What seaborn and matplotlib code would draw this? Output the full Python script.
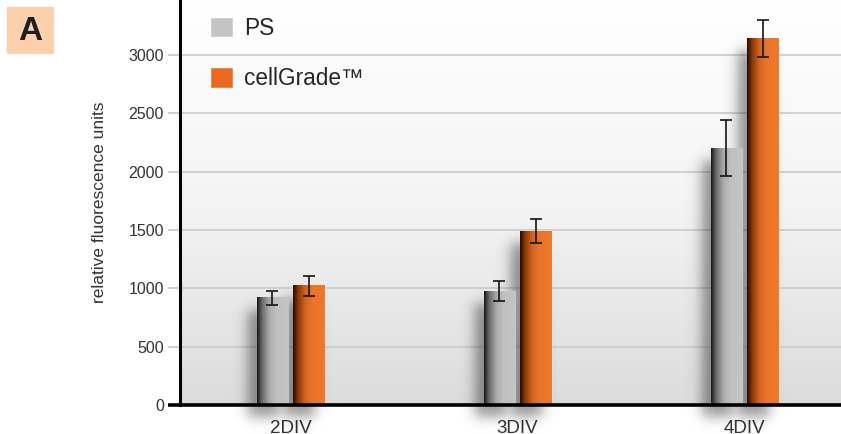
import numpy as np
import pandas as pd
import matplotlib
matplotlib.use('Agg')
import matplotlib.pyplot as plt
import seaborn as sns
from matplotlib.patches import Patch, Rectangle
from matplotlib.colors import LinearSegmentedColormap

# --- data ---
days = ['2DIV', '3DIV', '4DIV']
surfaces = ['PS', 'cellGrade™']
ps_mean = [920, 975, 2200]
ps_err = [60, 85, 240]
cg_mean = [1020, 1490, 3140]
cg_err = [85, 103, 160]
y_ticks = [0, 500, 1000, 1500, 2000, 2500, 3000]

df = pd.DataFrame({
    'day': days * 2,
    'surface': [surfaces[0]] * 3 + [surfaces[1]] * 3,
    'rfu': ps_mean + cg_mean,
    'err': ps_err + cg_err,
})

sns.set_theme(style='white')
plt.rcParams['font.family'] = ['Liberation Sans', 'DejaVu Sans']

W, H = 841, 434
fig = plt.figure(figsize=(W / 100, H / 100), dpi=100)
ax = fig.add_axes([180 / W, 29 / H, 661 / W, 405 / H])

palette = {'PS': '#c2c2c2', 'cellGrade™': '#ee7627'}
sns.barplot(data=df, x='day', y='rfu', hue='surface', hue_order=surfaces,
            palette=palette, width=0.318, gap=0.14, errorbar=None,
            saturation=1, legend=False, ax=ax)

XLIM = (-0.487, 2.425)
YLIM = (0, 3471)
px_x = (XLIM[1] - XLIM[0]) / 661   # data units per pixel
px_y = (YLIM[1] - YLIM[0]) / 405

# background gradient
bg = LinearSegmentedColormap.from_list('bg', ['#ffffff', '#f4f4f4', '#dcdcdc'])
ax.imshow(np.linspace(0, 1, 256).reshape(-1, 1), cmap=bg, aspect='auto',
          extent=[0, 1, 0, 1], transform=ax.transAxes, zorder=0)

cmaps = {
    'PS': LinearSegmentedColormap.from_list('ps', [(0, '#151515'), (0.15, '#666666'),
                                                  (0.38, '#a9a9a9'), (0.6, '#bfbfbf'), (1, '#c5c5c5')]),
    'cellGrade™': LinearSegmentedColormap.from_list('cg', [(0, '#260700'), (0.15, '#843508'),
                                                         (0.38, '#d2631d'), (0.6, '#e9742a'), (1, '#ef7a2c')]),
}

bars = sorted(ax.patches, key=lambda p: p.get_x())
order = df.assign(k=df['day'].map(days.index) * 2 + df['surface'].map(surfaces.index)).sort_values('k')
grad = np.linspace(0, 1, 256).reshape(1, -1)

for p, (_, row) in zip(bars, order.iterrows()):
    x0, w, h = p.get_x(), p.get_width(), p.get_height()
    # soft drop shadow
    sx = np.arange(-45, w / px_x + 10)
    sy = np.arange(-40, h / px_y + 15)
    X, Y = np.meshgrid(sx, sy)
    s = 8.0
    fx = 0.5 * (np.tanh((X + 9) / s) - np.tanh((X - w / px_x + 9) / s))
    fy = 0.5 * (np.tanh((Y + 12) / s) - np.tanh((Y - h / px_y + 12) / s))
    rgba = np.zeros(X.shape + (4,))
    rgba[..., 3] = 0.42 * fx * fy
    im = ax.imshow(rgba[::-1], aspect='auto', zorder=1.5,
                   extent=[x0 + sx[0] * px_x, x0 + sx[-1] * px_x, sy[0] * px_y, sy[-1] * px_y])
    im.set_clip_on(False)
    # horizontal shading of the bar
    ax.imshow(grad, cmap=cmaps[row['surface']], aspect='auto', zorder=3,
              extent=[x0, x0 + w, 0, h])

xs = [p.get_x() + p.get_width() / 2 for p in bars]
ax.errorbar(xs, order['rfu'], yerr=order['err'], fmt='none', ecolor='#151515',
            elinewidth=1.2, capsize=4.6, capthick=1.2, zorder=6)

ax.set_xlim(XLIM)
ax.set_ylim(YLIM)
ax.set_yticks(y_ticks)
ax.set_axisbelow(True)
ax.yaxis.grid(True, color='#cbcbcb', lw=1.2)
ax.xaxis.grid(False)

ax.tick_params(axis='y', length=8.6, width=1.2, color='#c8c8c8', pad=3,
               labelsize=11.5, labelcolor='#333333', left=True)
ax.tick_params(axis='x', length=0, pad=11, labelsize=13.5, labelcolor='#333333')

for side in ['top', 'right', 'bottom']:
    ax.spines[side].set_visible(False)
ax.spines['left'].set_color('black')
ax.spines['left'].set_linewidth(2.2)
ax.plot([-12 / 661, 1], [0, 0], transform=ax.transAxes, color='black',
        lw=2.6, clip_on=False, zorder=7, solid_capstyle='butt')

ax.set_xlabel('')
ax.set_ylabel('relative fluorescence units', fontsize=12.5, color='#333333')
ax.yaxis.set_label_coords(-73 / 661, 0.5)

ax.legend(handles=[Patch(facecolor='#c4c4c4', label='PS'),
                   Patch(facecolor='#ec6a1e', label='cellGrade™')],
          loc='upper left', bbox_to_anchor=(30 / 661, 1 - 17 / 405),
          frameon=False, fontsize=16.3, handlelength=1.0, handleheight=1.0,
          handletextpad=0.5, labelspacing=1.2, borderpad=0, borderaxespad=0)

# panel label
fig.patches.append(Rectangle((7 / W, 1 - 53 / H), 46 / W, 46 / H,
                             transform=fig.transFigure, color='#fcd0ac', zorder=0))
fig.text(30 / W, 1 - 31 / H, 'A', ha='center', va='center', fontsize=24,
         fontweight='bold', color='#1e1e1e')

fig.savefig('out.png', dpi=100)
